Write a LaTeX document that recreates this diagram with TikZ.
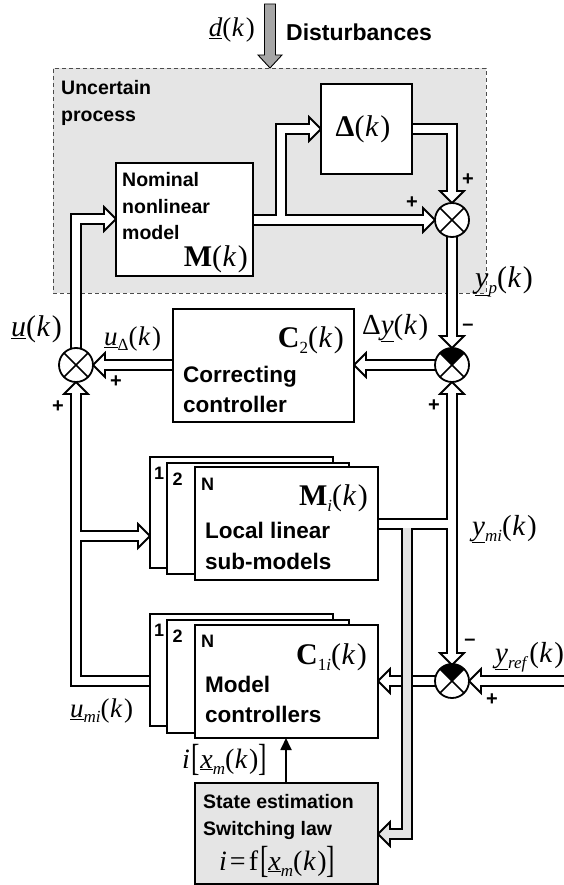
\documentclass[tikz,border=0pt]{standalone}
\usepackage{fontspec}
\setmainfont{Liberation Sans}
\newfontfamily\tms{Liberation Serif}
\usepackage{graphicx}
\usetikzlibrary{arrows.meta}
\newcommand\sz[1]{\fontsize{#1}{#1}\selectfont}
\newcommand\vk{(\kern0.5pt\textit{k}\kern1.5pt)}
\newcommand\lo[1]{\raisebox{-0.22em}{\sz{17}#1}}
\newcommand\ul[1]{\underline{\textit{#1}}}
\newcommand\bk[1]{\raisebox{-0.1em}{\scalebox{0.9}[1.35]{#1}}}
\newcommand\hd[4][white]{\filldraw[fill=#1, draw=black, line width=1.8pt, line join=miter, shift={(#2,#3)}, rotate=#4] (0pt,0pt) -- (-12pt,12pt) -- (-12pt,-12pt) -- cycle;}
\tikzset{
 pb/.style={draw=black, line width=12pt, line join=miter},
 pw/.style={draw=white, line width=8.4pt, line join=miter},
 pwh/.style={pw, shorten >=-2.5pt},
 box/.style={draw=black, fill=white, line width=1.8pt, inner sep=0pt, outer sep=0pt, anchor=north west},
 sumnode/.style={circle, draw=black, fill=white, line width=1.8pt, minimum size=34pt, inner sep=0pt, outer sep=0pt},
 sf/.style={font=\sz{#1}\bfseries, inner sep=0pt},
 mt/.style={font=\tms\sz{#1}, inner sep=0pt},
 sgn/.style={font=\sz{20}\bfseries, inner sep=0pt},
}
\begin{document}
\begin{tikzpicture}[x=1pt,y=-1pt]
\useasboundingbox (0,0) rectangle (564,885);
% uncertain process region
\node[draw=gray!60!black, dash pattern=on 4pt off 3pt, line width=0.8pt, fill=gray!20, minimum width=433pt, minimum height=225pt, anchor=north west, inner sep=0pt, outer sep=0pt] (proc) at (53,68) {};
\node[sf=19.5, anchor=base west] (unc1) at (61,95) {Uncertain};
\node[sf=19.5, anchor=base west] (unc2) at (61,122) {process};
% disturbance arrow
\draw[fill=gray!70, line width=0.9pt, line join=miter] (264.5,4) -- (275.5,4) -- (275.5,55) -- (282,55) -- (270,68) -- (258,55) -- (264.5,55) -- cycle;
\node[sf=23, anchor=base west] (dist) at (286,41) {Disturbances};
\node[mt=27, anchor=base east] (dk) at (255,37) {\ul{d}\vk};
% ---- pipes: black layer
\draw[pb] (253,220) -- (423,220);
\draw[pb] (281,220) -- (281,129) -- (309,129);
\draw[pb] (412,129) -- (452,129) -- (452,191);
\draw[pb] (452,236) -- (452,336);
\draw[pb] (435,365) -- (366,365);
\draw[pb] (173,365) -- (105,365);
\draw[pb] (76,348) -- (76,219) -- (104,219);
\draw[pb] (150,681) -- (76,681) -- (76,394);
\draw[pb] (76,536) -- (138,536);
\draw[pb] (378,524) -- (452,524);
\draw[pb] (452,394) -- (452,653);
\draw[pb] (564,681) -- (481,681);
\draw[pb] (435,681) -- (390,681);
% heads
\hd{435}{220}{0}
\hd{321}{129}{0}
\hd{452}{203}{-90}
\hd{452}{348}{-90}
\hd{354}{365}{180}
\hd{93}{365}{180}
\hd{116}{219}{0}
\hd{76}{382}{90}
\hd{150}{536}{0}
\hd{452}{382}{90}
\hd{452}{665}{-90}
\hd{469}{681}{180}
\hd{378}{681}{180}
% white layer
\draw[pwh] (253,220) -- (423,220);
\draw[pwh] (281,220) -- (281,129) -- (309,129);
\draw[pwh] (412,129) -- (452,129) -- (452,191);
\draw[pwh] (452,236) -- (452,336);
\draw[pwh] (435,365) -- (366,365);
\draw[pwh] (173,365) -- (105,365);
\draw[pwh] (76,348) -- (76,219) -- (104,219);
\draw[pwh] (150,681) -- (76,681) -- (76,394);
\draw[pwh] (76,536) -- (138,536);
\draw[pw] (378,524) -- (452,524);
\draw[pwh, shorten <=-2.5pt] (452,394) -- (452,653);
\draw[pwh] (564,681) -- (481,681);
\draw[pwh] (435,681) -- (390,681);
% gray pipe to state estimation
\draw[pb] (407,530) -- (407,834) -- (390,834);
\hd[gray!22]{378}{834}{180}
\draw[pwh, draw=gray!22] (407,528.2) -- (407,834) -- (390,834);
% ---- boxes
\node[box, minimum width=137pt, minimum height=113pt] (nom) at (116,163) {};
\node[box, minimum width=91pt, minimum height=90pt] (del) at (321,84) {};
\node[box, minimum width=181pt, minimum height=113pt] (c2) at (173,309) {};
\node[box, minimum width=183pt, minimum height=111pt] (m1) at (150,457) {};
\node[box, minimum width=182pt, minimum height=111pt] (m2) at (167,463) {};
\node[box, minimum width=183pt, minimum height=113pt] (mn) at (195,467) {};
\node[box, minimum width=183pt, minimum height=112pt] (k1) at (150,614) {};
\node[box, minimum width=182pt, minimum height=113pt] (k2) at (167,620) {};
\node[box, minimum width=183pt, minimum height=113pt] (kn) at (195,625) {};
\node[box, fill=gray!20, minimum width=183pt, minimum height=101pt] (se) at (195,783) {};
% ---- sums
\node[sumnode] (s1) at (452,220) {};
\node[sumnode] (s2) at (452,365) {};
\node[sumnode] (s0) at (76,365) {};
\node[sumnode] (s3) at (452,681) {};
\fill (s2.center) -- (s2.45) -- (s2.60) -- (s2.75) -- (s2.90) -- (s2.105) -- (s2.120) -- (s2.135) -- cycle;
\fill (s3.center) -- (s3.45) -- (s3.60) -- (s3.75) -- (s3.90) -- (s3.105) -- (s3.120) -- (s3.135) -- cycle;
\foreach \s in {s0,s1,s2,s3} {\draw[line width=1.6pt] (\s.north west) -- (\s.south east) (\s.north east) -- (\s.south west);}
% switching signal
\coordinate (ax) at (286,0);
\draw[line width=1.8pt, -{Triangle[length=12pt, width=11pt]}] (se.north -| ax) -- (kn.south -| ax);
% ---- texts in boxes
\node[sf=19.5, anchor=base west] (t1) at (122,187) {Nominal};
\node[sf=19.5, anchor=base west] (t2) at (122,213.5) {nonlinear};
\node[sf=19.5, anchor=base west] (t3) at (122,240) {model};
\node[mt=30, anchor=base east] (tM) at (248,266) {\textbf{M}\vk};
\node[mt=30, anchor=base] (tD) at (363,137) {\textbf{Δ}\vk};
\node[mt=30, anchor=base east] (tC2) at (344,347) {\textbf{C}\lo{2}\vk};
\node[sf=22.5, anchor=base west] (t4) at (183,382) {Correcting};
\node[sf=22.5, anchor=base west] (t5) at (183,412) {controller};
\node[sf=18, anchor=base west] (n1a) at (154,479) {1};
\node[sf=18, anchor=base west] (n2a) at (172.5,485) {2};
\node[sf=18, anchor=base west] (nNa) at (201,490) {N};
\node[mt=30, anchor=base east] (tMi) at (368,505) {\textbf{M}\lo{\textit{i}}\vk};
\node[sf=22.5, anchor=base west] (t6) at (205,538) {Local linear};
\node[sf=22.5, anchor=base west] (t7) at (205,569) {sub-models};
\node[sf=18, anchor=base west] (n1b) at (154,636) {1};
\node[sf=18, anchor=base west] (n2b) at (172.5,642) {2};
\node[sf=18, anchor=base west] (nNb) at (201,647) {N};
\node[mt=30, anchor=base east] (tC1) at (367,664) {\textbf{C}\lo{1\textit{i}}\vk};
\node[sf=22.5, anchor=base west] (t8) at (205,692) {Model};
\node[sf=22.5, anchor=base west] (t9) at (205,722) {controllers};
\node[sf=19.5, anchor=base west] (t10) at (203,808) {State estimation};
\node[sf=19.5, anchor=base west] (t11) at (203,835) {Switching law};
\node[mt=28, anchor=base west] (t12) at (219,870) {\textit{i}\kern3pt=\kern3pt f\kern2pt\bk{[}\ul{x}\lo{\textit{m}}\vk\bk{]}};
% ---- outside labels
\node[mt=30, anchor=base west] (lyp) at (475,287) {\ul{y}\lo{\textit{p}}\vk};
\node[mt=29, anchor=base west] (ldy) at (362,334) {Δ\ul{y}\vk};
\node[mt=27, anchor=base west] (lud) at (104,345) {\ul{u}\lo{Δ}\vk};
\node[mt=30, anchor=base west] (lu) at (11,336) {\ul{u}\vk};
\node[mt=29, anchor=base west] (lym) at (472,535) {\ul{y}\lo{\textit{mi}}\vk};
\node[mt=29, anchor=base west] (lyr) at (495,662) {\ul{y}\lo{\textit{ref}}\kern1pt\vk};
\node[mt=27, anchor=base west] (lum) at (70,717) {\ul{u}\lo{\textit{mi}}\vk};
\node[mt=28, anchor=base west] (lix) at (182,768) {\textit{i}\kern2pt\bk{[}\ul{x}\lo{\textit{m}}\vk\bk{]}};
% ---- signs
\node[sgn] (g1) at (468,180) {+};
\node[sgn] (g2) at (412,203) {+};
\node[sgn] (g3) at (468,327) {–};
\node[sgn] (g4) at (116,382) {+};
\node[sgn] (g5) at (58,407) {+};
\node[sgn] (g6) at (434,406) {+};
\node[sgn] (g7) at (470,642) {–};
\node[sgn] (g8) at (492,700) {+};
\end{tikzpicture}
\end{document}
